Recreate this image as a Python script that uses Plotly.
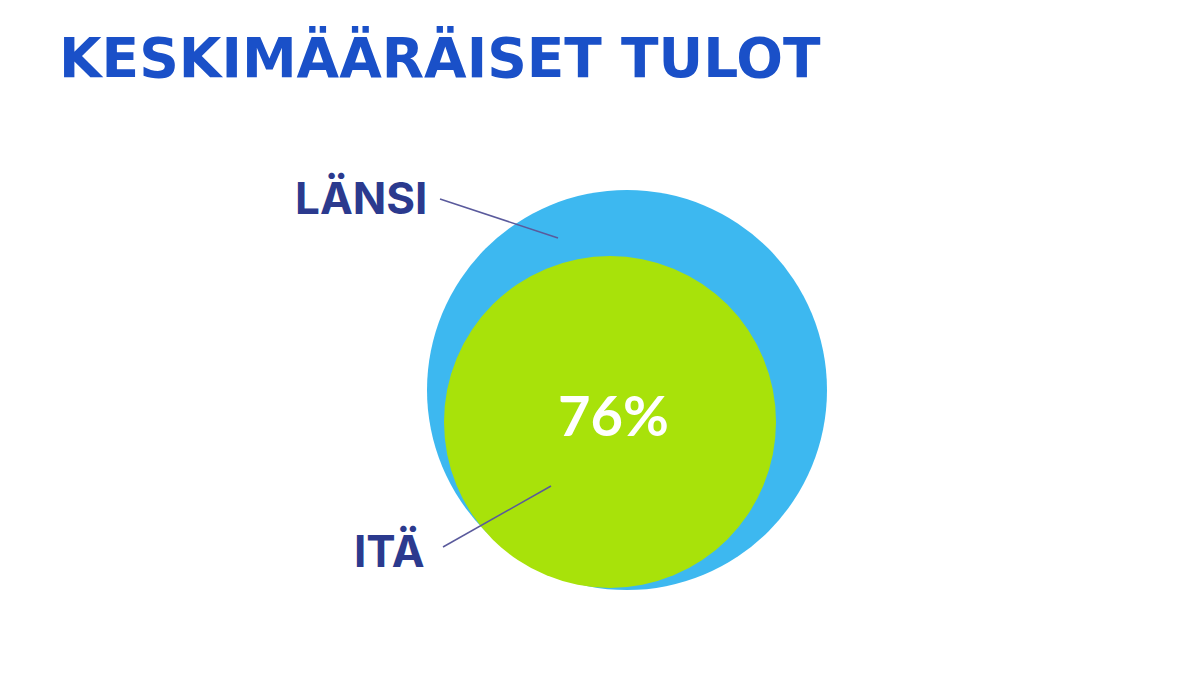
import plotly.graph_objects as go

# Data
labels = ["LÄNSI", "ITÄ"]
values = [100, 76]          # average income, Länsi = 100
share_text = f"{values[1]}%"
title = "KESKIMÄÄRÄISET TULOT"

# Geometry (screen pixels, y grows downward; page body has an 8px margin)
W, H = 1198, 674
OFF = 8
circles = [
    dict(cx=627, cy=390, r=200, color="#3db8f0"),   # Länsi
    dict(cx=610, cy=422, r=166, color="#a8e20a"),   # Itä
]
leaders = [
    dict(x0=440, y0=199, x1=558, y1=238),
    dict(x0=443, y0=547, x1=551, y1=486),
]
label_pos = [
    dict(x=429, y=198),
    dict(x=427, y=551),
]

navy = "#2b3a8e"
blue = "#1a50c8"

fig = go.Figure()
# invisible trace so the axes exist
fig.add_trace(go.Scatter(x=[OFF, W], y=[OFF, H], mode="markers",
                         marker=dict(opacity=0), hoverinfo="skip", showlegend=False))

for c in circles:
    fig.add_shape(type="circle", xref="x", yref="y",
                  x0=c["cx"] - c["r"], x1=c["cx"] + c["r"],
                  y0=c["cy"] - c["r"], y1=c["cy"] + c["r"],
                  fillcolor=c["color"], line=dict(width=0), layer="below")

for ln in leaders:
    fig.add_shape(type="line", xref="x", yref="y",
                  x0=ln["x0"], y0=ln["y0"], x1=ln["x1"], y1=ln["y1"],
                  line=dict(color="#5a5a9c", width=1.5))

for lab, p in zip(labels, label_pos):
    fig.add_annotation(x=p["x"], y=p["y"], xref="x", yref="y", text=f"<b>{lab}</b>",
                       showarrow=False, xanchor="right", yanchor="middle",
                       font=dict(family="Inter", size=44, color=navy))

fig.add_annotation(x=613, y=414, xref="x", yref="y", text=f"<b>{share_text}</b>",
                   showarrow=False, xanchor="center", yanchor="middle",
                   font=dict(family="Lato", size=56, color="white"))

fig.add_annotation(x=57, y=58, xref="x", yref="y", text=f"<b>{title}</b>",
                   showarrow=False, xanchor="left", yanchor="middle",
                   font=dict(family="DejaVu Sans", size=55, color=blue))

fig.update_layout(width=W, height=H, margin=dict(l=0, r=0, t=0, b=0),
                  paper_bgcolor="white", plot_bgcolor="white",
                  xaxis=dict(range=[OFF, W + OFF], visible=False, fixedrange=True),
                  yaxis=dict(range=[H + OFF, OFF], visible=False, fixedrange=True),
                  showlegend=False)

fig.write_html("out.html")
